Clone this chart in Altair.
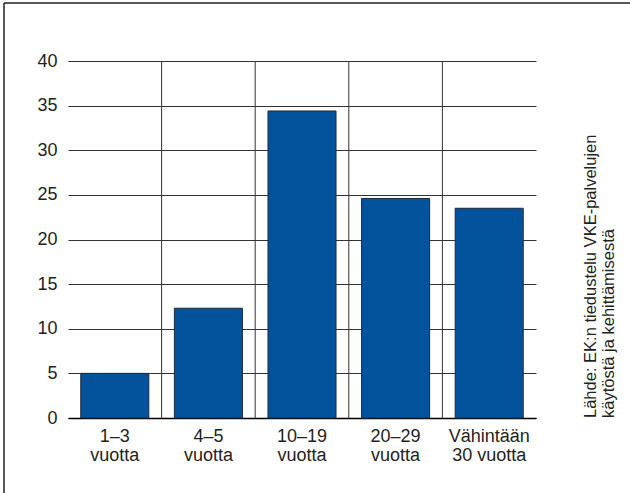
import altair as alt
import pandas as pd

# Category labels (two lines each), shares in percent
line1 = ["1–3", "4–5", "10–19", "20–29", "Vähintään"]
line2 = ["vuotta", "vuotta", "vuotta", "vuotta", "30 vuotta"]
share = [5.0, 12.3, 34.4, 24.6, 23.5]
y_ticks = [0, 5, 10, 15, 20, 25, 30, 35, 40]
source_lines = ["Lähde: EK:n tiedustelu VKE-palvelujen", "käytöstä ja kehittämisestä"]

groups = [f"{a}|{b}" for a, b in zip(line1, line2)]
df = pd.DataFrame({"group": groups, "share": share})
dividers = pd.DataFrame({"group": groups[1:]})
one = pd.DataFrame({"k": [0]})

W, H = 468, 357
PAD_L, PAD_T, PAD_R, PAD_B = 68, 61, 94, 75
TOTAL_W, TOTAL_H = 630, 493

FONT = "Liberation Sans"
TXT = "#231f20"
LINE = "#333333"

x_scale = alt.Scale(paddingInner=0, paddingOuter=0)

x_enc = alt.X(
    "group:N",
    sort=groups,
    title=None,
    scale=x_scale,
    axis=alt.Axis(
        labelExpr="split(datum.label, '|')",
        labelAngle=0,
        labelAlign="center",
        labelFontSize=18,
        labelLineHeight=19,
        labelPadding=9,
        labelColor=TXT,
        ticks=False,
        domainColor="#000000",
        domainWidth=1.3,
        grid=False,
    ),
)

y_enc = alt.Y(
    "share:Q",
    title=None,
    scale=alt.Scale(domain=[0, 40], nice=False),
    axis=alt.Axis(
        values=y_ticks,
        domain=False,
        ticks=False,
        labelFontSize=18,
        labelPadding=11,
        labelColor=TXT,
        gridColor=LINE,
        gridWidth=1,
    ),
)

bars = alt.Chart(df).mark_bar(
    width=alt.RelativeBandSize(0.727),
    color="#02539c",
    stroke="#1c2a3a",
    strokeWidth=1,
).encode(x=x_enc, y=y_enc)

# vertical separators between categories
seps = alt.Chart(dividers).mark_rule(color=LINE, strokeWidth=1).encode(
    x=alt.X("group:N", sort=groups, bandPosition=0, axis=None, scale=x_scale),
    y=alt.value(0),
    y2=alt.value(H),
)

# frame lines along the top and left edges
frame_top = alt.Chart(one).mark_rule(color="#222222", strokeWidth=1.5).encode(
    x=alt.value(4 - PAD_L), x2=alt.value(TOTAL_W - PAD_L), y=alt.value(3 - PAD_T)
)
frame_left = alt.Chart(one).mark_rule(color="#222222", strokeWidth=1.5).encode(
    x=alt.value(4 - PAD_L), y=alt.value(3 - PAD_T), y2=alt.value(TOTAL_H - PAD_T)
)

src1 = alt.Chart(one).mark_text(
    text=source_lines[0], angle=270, align="left", baseline="alphabetic",
    font=FONT, fontSize=16.5, color=TXT,
).encode(x=alt.value(596 - PAD_L), y=alt.value(H))
src2 = alt.Chart(one).mark_text(
    text=source_lines[1], angle=270, align="left", baseline="alphabetic",
    font=FONT, fontSize=16.5, color=TXT,
).encode(x=alt.value(614 - PAD_L), y=alt.value(H))

chart = alt.layer(bars, seps, frame_top, frame_left, src1, src2).resolve_axis(
    x="independent"
).properties(
    width=W,
    height=H,
    autosize=alt.AutoSizeParams(type="none"),
    padding={"left": PAD_L, "top": PAD_T, "right": PAD_R, "bottom": PAD_B},
    background="white",
).configure_view(strokeWidth=0).configure_axis(labelFont=FONT)

chart.save("out.html", embed_options={"renderer": "svg", "actions": False})
